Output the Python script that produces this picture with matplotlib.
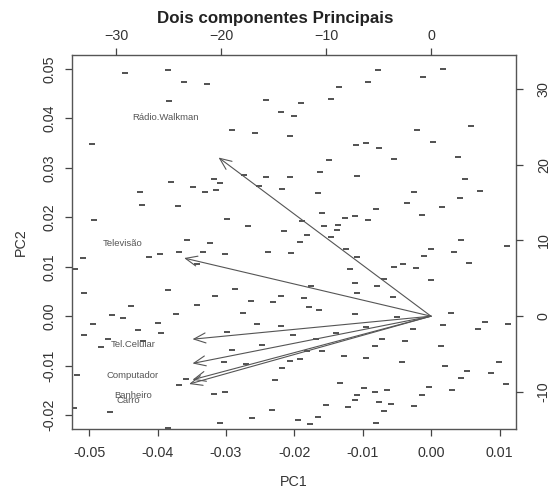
import matplotlib
matplotlib.use('Agg')
import matplotlib.pyplot as plt

plt.rcParams['font.family'] = ['Liberation Sans', 'DejaVu Sans']

# Escores das observações (PC1, PC2)
pc1 = [-0.0447, -0.0384, -0.0361, -0.0327, -0.0383, -0.0496, -0.0381, -0.0348, -0.0318, -0.0330,
       -0.0314, -0.0426, -0.0422, -0.0370, -0.0493, -0.0357, -0.0308, -0.0259, -0.0135, -0.0093,
       -0.0242, -0.0190, -0.0146, -0.0220, -0.0201, -0.0291, -0.0257, -0.0206, -0.0110, -0.0095,
       -0.0150, -0.0274, -0.0241, -0.0206, -0.0162, -0.0109, -0.0251, -0.0218, -0.0166, -0.0298,
       -0.0268, -0.0215, -0.0189, -0.0159, -0.0156, -0.0136, -0.0137, -0.0126, -0.0111, -0.0093,
       -0.0181, -0.0147, -0.0077, 0.0018, -0.0012, -0.0021, 0.0058, 0.0002, -0.0076, -0.0054,
       0.0039, 0.0049, 0.0072, -0.0025, 0.0042, -0.0036, 0.0016, -0.0080, -0.0014, 0.0044,
       -0.0324, -0.0509, -0.0520, -0.0412, -0.0397, -0.0369, -0.0333, -0.0343, -0.0508, -0.0384,
       -0.0316, -0.0439, -0.0343, -0.0467, -0.0451, -0.0373, -0.0494, -0.0399, -0.0428, -0.0395,
       -0.0507, -0.0473, -0.0421, -0.0483, -0.0517, -0.0359, -0.0369, -0.0318, -0.0522, -0.0470,
       -0.0385, -0.0308, -0.0191, -0.0301, -0.0238, -0.0205, -0.0125, -0.0108, -0.0119, -0.0111,
       -0.0108, -0.0287, -0.0175, -0.0220, -0.0264, -0.0231, -0.0186, -0.0179, -0.0164, -0.0275,
       -0.0111, -0.0254, -0.0220, -0.0299, -0.0202, -0.0139, -0.0095, -0.0168, -0.0247, -0.0291,
       -0.0181, -0.0160, -0.0303, -0.0270, -0.0207, -0.0191, -0.0128, -0.0095, -0.0218, -0.0229,
       -0.0133, -0.0302, -0.0098, -0.0109, -0.0111, -0.0154, -0.0121, -0.0233, -0.0262, -0.0194,
       -0.0165, -0.0177, 0.0111, 0.0000, -0.0011, 0.0034, 0.0056, -0.0055, -0.0041, -0.0022,
       0.0000, -0.0069, -0.0079, -0.0056, 0.0029, -0.0050, 0.0018, -0.0026, 0.0079, 0.0069,
       0.0113, -0.0072, -0.0038, -0.0082, 0.0014, -0.0042, 0.0020, 0.0099, 0.0053, 0.0088,
       0.0043, 0.0110, -0.0003, 0.0031, -0.0014, -0.0065, -0.0082, -0.0076, -0.0058, -0.0025,
       -0.0069, -0.0080]
pc2 = [0.0492, 0.0498, 0.0474, 0.0470, 0.0436, 0.0349, 0.0271, 0.0262, 0.0277, 0.0252,
       0.0256, 0.0251, 0.0225, 0.0222, 0.0194, 0.0155, 0.0270, 0.0527, 0.0463, 0.0474,
       0.0438, 0.0430, 0.0439, 0.0413, 0.0405, 0.0376, 0.0371, 0.0364, 0.0346, 0.0350,
       0.0315, 0.0286, 0.0282, 0.0282, 0.0291, 0.0284, 0.0263, 0.0258, 0.0249, 0.0196,
       0.0183, 0.0173, 0.0193, 0.0209, 0.0183, 0.0185, 0.0174, 0.0198, 0.0202, 0.0195,
       0.0165, 0.0160, 0.0498, 0.0500, 0.0483, 0.0376, 0.0385, 0.0352, 0.0341, 0.0317,
       0.0321, 0.0278, 0.0254, 0.0252, 0.0239, 0.0228, 0.0221, 0.0217, 0.0204, 0.0155,
       0.0148, 0.0118, 0.0095, 0.0119, 0.0125, 0.0129, 0.0129, 0.0105, 0.0046, 0.0053,
       0.0040, 0.0020, 0.0022, 0.0003, -0.0003, 0.0005, -0.0015, -0.0013, -0.0028, -0.0033,
       -0.0038, -0.0047, -0.0051, -0.0063, -0.0119, -0.0126, -0.0139, -0.0157, -0.0185, -0.0194,
       -0.0225, -0.0215, 0.0151, 0.0126, 0.0130, 0.0127, 0.0136, 0.0119, 0.0096, 0.0067,
       0.0047, 0.0055, 0.0061, 0.0041, 0.0031, 0.0028, 0.0036, 0.0019, 0.0013, 0.0006,
       0.0005, -0.0016, -0.0020, -0.0031, -0.0038, -0.0033, -0.0022, -0.0047, -0.0058, -0.0069,
       -0.0071, -0.0070, -0.0093, -0.0097, -0.0090, -0.0086, -0.0080, -0.0085, -0.0105, -0.0129,
       -0.0136, -0.0154, -0.0146, -0.0160, -0.0170, -0.0180, -0.0184, -0.0190, -0.0206, -0.0209,
       -0.0204, -0.0217, 0.0141, 0.0135, 0.0121, 0.0130, 0.0107, 0.0100, 0.0105, 0.0097,
       0.0073, 0.0076, 0.0062, 0.0038, 0.0006, -0.0002, -0.0018, -0.0026, -0.0012, -0.0025,
       -0.0016, -0.0046, -0.0051, -0.0060, -0.0060, -0.0093, -0.0100, -0.0092, -0.0111, -0.0114,
       -0.0125, -0.0138, -0.0144, -0.0149, -0.0159, -0.0150, -0.0154, -0.0174, -0.0178, -0.0182,
       -0.0192, -0.0215]

# Cargas das variáveis (eixos de cima e da direita)
variaveis = ['Rádio.Walkman', 'Televisão', 'Tel.Celular', 'Computador', 'Banheiro', 'Carro']
carga1 = [-25.3, -29.4, -28.4, -28.4, -28.4, -28.8]
carga2 = [26.2, 9.6, -3.8, -7.8, -10.5, -11.2]

xticks_pc1 = [-0.05, -0.04, -0.03, -0.02, -0.01, 0.00, 0.01]
yticks_pc2 = [-0.02, -0.01, 0.00, 0.01, 0.02, 0.03, 0.04, 0.05]
xticks_top = [-30, -20, -10, 0]
yticks_right = [-10, 0, 10, 20, 30]

fig = plt.figure(figsize=(5.51, 4.88), dpi=100)
pos = [72 / 551, 1 - 429 / 488, 444 / 551, 374 / 488]
ax = fig.add_axes(pos)
ax.plot(pc1, pc2, linestyle='none', marker='_', markersize=4.5, mew=1.2, color='#333333')
ax.set_xlim(-0.0525, 0.0124)
ax.set_ylim(-0.0228, 0.0528)
ax.set_xticks(xticks_pc1)
ax.set_xticklabels([f'{v:.2f}' for v in xticks_pc1])
ax.set_yticks(yticks_pc2)
ax.set_yticklabels([f'{v:.2f}' for v in yticks_pc2], rotation=90, va='center')
ax.tick_params(direction='out', length=5, width=0.9, colors='#444444', labelsize=10.3,
               labelcolor='#333333', pad=6)
ax.tick_params(axis='x', pad=7)
for s in ax.spines.values():
    s.set_color('#555555')
    s.set_linewidth(1.0)
ax.set_xlabel('PC1', fontsize=10.3, color='#333333', labelpad=11)
ax.set_ylabel('PC2', fontsize=10.3, color='#333333', labelpad=11)

ax2 = fig.add_axes(pos, frameon=False)
ax2.set_xlim(-34.2, 8.1)
ax2.set_ylim(-14.9, 34.5)
ax2.xaxis.tick_top()
ax2.yaxis.tick_right()
ax2.set_xticks(xticks_top)
ax2.set_yticks(yticks_right)
ax2.set_yticklabels([str(v) for v in yticks_right], rotation=90, va='center')
ax2.tick_params(direction='out', length=5, width=0.9, colors='#444444', labelsize=10.3,
                labelcolor='#333333')
ax2.tick_params(axis='x', pad=4)
ax2.tick_params(axis='y', pad=10)
ax2.patch.set_visible(False)

for nome, a, b in zip(variaveis, carga1, carga2):
    ax2.annotate('', xy=(0.8 * a, 0.8 * b), xytext=(0, 0),
                 arrowprops=dict(arrowstyle='->,head_length=0.7,head_width=0.3',
                                 color='#555555', lw=0.8, mutation_scale=12,
                                 shrinkA=0, shrinkB=0))
    ax2.text(a, b, nome, ha='center', va='center', fontsize=6.8, color='#555555')

fig.suptitle('Dois componentes Principais', fontsize=12.2, fontweight='bold',
             color='#222222', y=1 - 18 / 488, va='center')

fig.savefig('out.png', dpi=100)
